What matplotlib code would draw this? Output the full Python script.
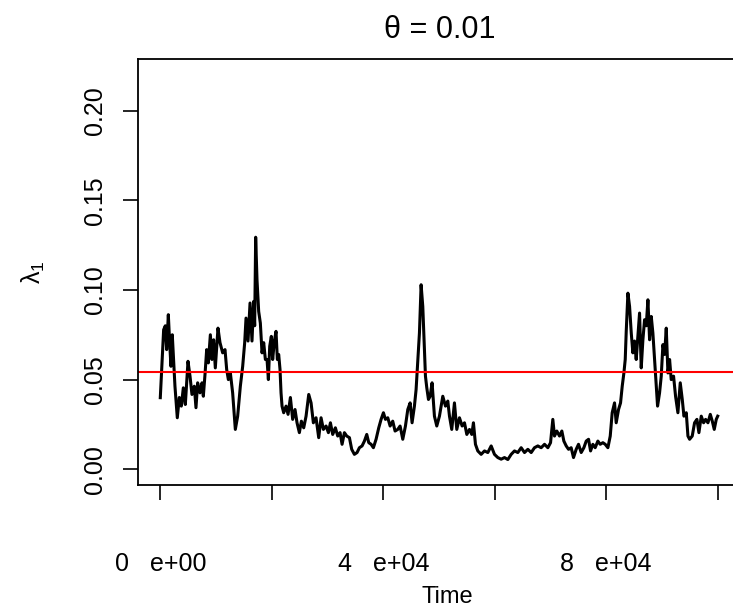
import matplotlib
matplotlib.use("Agg")
import matplotlib.pyplot as plt
import numpy as np

plt.rcParams['font.family'] = ['Liberation Sans', 'DejaVu Sans']
plt.rcParams['mathtext.fontset'] = 'custom'
plt.rcParams['mathtext.rm'] = 'Liberation Sans'
plt.rcParams['mathtext.it'] = 'Liberation Sans'

# time (in thousands) and lambda_1 values
time_k = [0.0, 0.60, 0.90, 1.14, 1.44, 1.68, 1.91, 2.15, 2.39, 2.63, 3.05, 3.41, 3.77, 4.13, 4.49,
          4.97, 5.33, 5.68, 6.10, 6.40, 6.70, 7.12, 7.48, 7.72, 8.02, 8.32, 8.62, 8.98, 9.27, 9.57,
          9.87, 10.35, 10.71, 11.19, 11.61, 11.91, 12.21, 12.57, 12.98, 13.46, 13.88, 14.36, 14.78,
          15.14, 15.38, 15.74, 16.10, 16.45, 16.75, 16.93, 17.11, 17.35, 17.65, 17.95, 18.25, 18.55,
          18.85, 19.15, 19.39, 19.63, 19.92, 20.16, 20.46, 20.76, 21.00, 21.24, 21.48, 21.66, 21.84,
          22.14, 22.56, 22.92, 23.34, 23.75, 24.17, 24.53, 24.95, 25.31, 25.73, 26.15, 26.63, 27.05,
          27.46, 27.94, 28.42, 28.84, 29.26, 29.74, 30.16, 30.52, 30.93, 31.41, 31.83, 32.25, 32.61,
          33.03, 33.45, 33.93, 34.34, 34.82, 35.30, 35.72, 36.20, 36.62, 37.04, 37.40, 37.82, 38.23,
          38.71, 39.19, 39.61, 40.03, 40.39, 40.81, 41.23, 41.70, 42.12, 42.60, 43.02, 43.50, 43.98,
          44.40, 44.82, 45.17, 45.59, 45.89, 46.19, 46.49, 46.79, 47.09, 47.33, 47.57, 47.81, 48.11,
          48.41, 48.76, 49.18, 49.60, 50.08, 50.68, 51.16, 51.58, 51.88, 52.29, 52.77, 53.19, 53.67,
          54.15, 54.57, 54.99, 55.47, 55.88, 56.18, 56.54, 56.96, 57.56, 58.16, 58.76, 59.36, 59.95,
          60.55, 61.15, 61.75, 62.35, 62.95, 63.54, 64.14, 64.74, 65.34, 65.94, 66.54, 67.13, 67.73,
          68.33, 68.93, 69.53, 70.01, 70.42, 70.72, 71.14, 71.62, 72.04, 72.40, 72.82, 73.24, 73.71,
          74.13, 74.61, 75.03, 75.51, 75.99, 76.41, 76.83, 77.19, 77.60, 78.02, 78.50, 78.92, 79.40,
          79.82, 80.30, 80.72, 81.07, 81.49, 81.79, 82.21, 82.57, 82.87, 83.17, 83.41, 83.59, 83.89,
          84.19, 84.49, 84.78, 85.08, 85.38, 85.68, 85.98, 86.28, 86.58, 86.88, 87.18, 87.48, 87.78,
          88.08, 88.37, 88.67, 88.97, 89.21, 89.57, 89.87, 90.17, 90.47, 90.77, 91.07, 91.37, 91.66,
          92.08, 92.44, 92.86, 93.28, 93.64, 93.94, 94.36, 94.66, 94.96, 95.43, 95.85, 96.27, 96.63,
          97.05, 97.47, 97.83, 98.25, 98.67, 99.03, 99.38, 99.74, 100.0]
lam1 = [0.0399, 0.0778, 0.0800, 0.0667, 0.0862, 0.0706, 0.0574, 0.0750, 0.0612, 0.0463, 0.0287, 0.0400,
        0.0352, 0.0454, 0.0361, 0.0602, 0.0519, 0.0417, 0.0463, 0.0343, 0.0482, 0.0426, 0.0482, 0.0407,
        0.0528, 0.0667, 0.0593, 0.0750, 0.0612, 0.0722, 0.0565, 0.0787, 0.0706, 0.0649, 0.0667, 0.0556,
        0.0500, 0.0537, 0.0426, 0.0222, 0.0296, 0.0463, 0.0574, 0.0706, 0.0843, 0.0715, 0.0927, 0.0715,
        0.0936, 0.0800, 0.1294, 0.1056, 0.0880, 0.0815, 0.0649, 0.0706, 0.0612, 0.0612, 0.0500, 0.0686,
        0.0741, 0.0612, 0.0715, 0.0769, 0.0612, 0.0640, 0.0556, 0.0426, 0.0352, 0.0315, 0.0352, 0.0306,
        0.0400, 0.0278, 0.0333, 0.0259, 0.0204, 0.0268, 0.0231, 0.0296, 0.0417, 0.0370, 0.0259, 0.0287,
        0.0176, 0.0287, 0.0222, 0.0241, 0.0204, 0.0259, 0.0194, 0.0231, 0.0185, 0.0204, 0.0139, 0.0204,
        0.0185, 0.0176, 0.0111, 0.0083, 0.0093, 0.0120, 0.0130, 0.0157, 0.0194, 0.0148, 0.0139, 0.0120,
        0.0167, 0.0231, 0.0278, 0.0315, 0.0278, 0.0287, 0.0241, 0.0268, 0.0213, 0.0222, 0.0241, 0.0167,
        0.0241, 0.0333, 0.0370, 0.0259, 0.0352, 0.0444, 0.0602, 0.0760, 0.1029, 0.0908, 0.0706, 0.0519,
        0.0454, 0.0389,
        0.0407, 0.0482, 0.0296, 0.0241, 0.0296, 0.0407, 0.0352, 0.0380, 0.0296, 0.0222, 0.0370, 0.0222,
        0.0287, 0.0241, 0.0259, 0.0194, 0.0222, 0.0194, 0.0259, 0.0139, 0.0102, 0.0083, 0.0102, 0.0093,
        0.0130, 0.0083, 0.0065, 0.0056, 0.0065, 0.0054, 0.0083, 0.0102, 0.0093, 0.0120, 0.0093, 0.0111,
        0.0093, 0.0120, 0.0130, 0.0120, 0.0139, 0.0120, 0.0148, 0.0278, 0.0185, 0.0213, 0.0185, 0.0213,
        0.0157, 0.0130, 0.0111, 0.0120, 0.0065, 0.0111, 0.0139, 0.0093, 0.0120, 0.0157, 0.0167, 0.0102,
        0.0139, 0.0120, 0.0157, 0.0139, 0.0148, 0.0139, 0.0120, 0.0185, 0.0315, 0.0370, 0.0259, 0.0333,
        0.0370, 0.0463, 0.0537, 0.0612, 0.0769, 0.0982, 0.0908, 0.0760, 0.0649, 0.0715, 0.0612, 0.0740,
        0.0871, 0.0565, 0.0722, 0.0834, 0.0800, 0.0945, 0.0722, 0.0852, 0.0760, 0.0612, 0.0463, 0.0352,
        0.0426, 0.0519, 0.0695, 0.0640, 0.0787, 0.0537, 0.0612, 0.0500, 0.0519, 0.0407, 0.0315, 0.0482,
        0.0390, 0.0296, 0.0315, 0.0185, 0.0167, 0.0185, 0.0259, 0.0278, 0.0204, 0.0296, 0.0259, 0.0278,
        0.0259, 0.0306, 0.0268, 0.0222, 0.0278, 0.0296]
mean_level = 0.0541

xticks = [0, 20000, 40000, 60000, 80000, 100000]
xticklabels = ["0   e+00", "", "4   e+04", "", "8   e+04", ""]
yticks = [0.00, 0.05, 0.10, 0.15, 0.20]
yticklabels = ["0.00", "0.05", "0.10", "0.15", "0.20"]

W, H = 733, 613
fig = plt.figure(figsize=(W / 100, H / 100), dpi=100)
ax = fig.add_axes([138 / W, (H - 485) / H, 602 / W, 426 / H])

t = np.array(time_k) * 1000
ax.plot(t, lam1, color='black', lw=2.2)
ax.axhline(mean_level, color='red', lw=1.5)

ax.set_xlim(-4000, 104000)
ax.set_ylim(-0.0088, 0.2288)

ax.set_xticks(xticks)
ax.set_xticklabels(xticklabels)
ax.set_yticks(yticks)
ax.set_yticklabels(yticklabels, rotation=90, va='center')
ax.tick_params(axis='both', length=10.5, width=1.2, labelsize=18, direction='out')
ax.tick_params(axis='x', pad=38)
ax.tick_params(axis='y', pad=12)
for s in ax.spines.values():
    s.set_linewidth(1.3)

fig.text(440 / W, 1 - 30 / H, "θ = 0.01", ha='center', va='center', fontsize=22)
fig.text(447 / W, 1 - 597 / H, "Time", ha='center', va='center', fontsize=17)
fig.text(33 / W, 1 - 272 / H, r"$\mathregular{\lambda_1}$", ha='center', va='center',
         fontsize=18, rotation=90)

fig.savefig("out.png", dpi=100)
